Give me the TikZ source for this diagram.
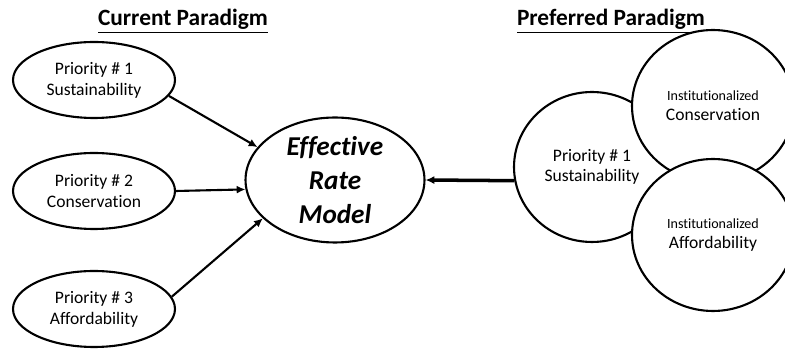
\documentclass[tikz,border=0pt]{standalone}
\usepackage{fontspec}
\setmainfont{Carlito}[Ligatures=NoCommon]
\usetikzlibrary{shapes.geometric, arrows.meta}
\tikzset{> = {Latex[length=5pt, width=4.6pt]}}
\tikzset{
  prio/.style={ellipse, draw, line width=1.2pt, inner sep=0pt, align=center,
    minimum width=3.24cm, minimum height=1.52cm, font=\fontsize{10}{12}\selectfont},
  inst/.style={ellipse, draw, fill=white, line width=1.2pt, inner sep=0pt, align=center,
    minimum width=3.24cm, minimum height=3.04cm, font=\fontsize{10}{11.4}\selectfont},
  heading/.style={font=\fontsize{13.3}{15}\selectfont\bfseries}
}

\begin{document}
\begin{tikzpicture}[x=0.02cm, y=-0.02cm]
\clip (0,0) rectangle (785,354);
% headings
\node[heading] (cur) at (183,21) {\underline{Current Paradigm}};
\node[heading] (pref) at (611,21) {\underline{Preferred Paradigm}};
% current paradigm
\node[prio] (p1) at (94,80)  {Priority \# 1\\Sustainability};
\node[prio] (p2) at (94,191) {Priority \# 2\\Conservation};
\node[prio] (p3) at (94,309) {Priority \# 3\\Affordability};
\node[ellipse, draw, line width=1.2pt, inner sep=0pt, align=center,
  minimum width=3.58cm, minimum height=2.5cm,
  font=\fontsize{15.5}{19.3}\selectfont\bfseries\itshape] (rate) at (335,180) {Effective\\Rate\\Model};
% preferred paradigm
\node[inst, minimum width=3.12cm, minimum height=3cm] (sus) at (592,167) {Priority \# 1\\Sustainability};
\node[inst] (cons) at (713,106) {{\fontsize{8}{9}\selectfont Institutionalized}\\Conservation};
\node[inst] (aff) at (713,235) {{\fontsize{8}{9}\selectfont Institutionalized}\\Affordability};
% edges
\draw[line width=1.2pt]
(p1.-12) edge[->] (rate.157)
(p2.east) edge[->] (rate.186)
(p3.9)   edge[->] (rate.208);
\draw[->, line width=2pt] (sus.190) -- (rate.east);
\end{tikzpicture}
\end{document}
